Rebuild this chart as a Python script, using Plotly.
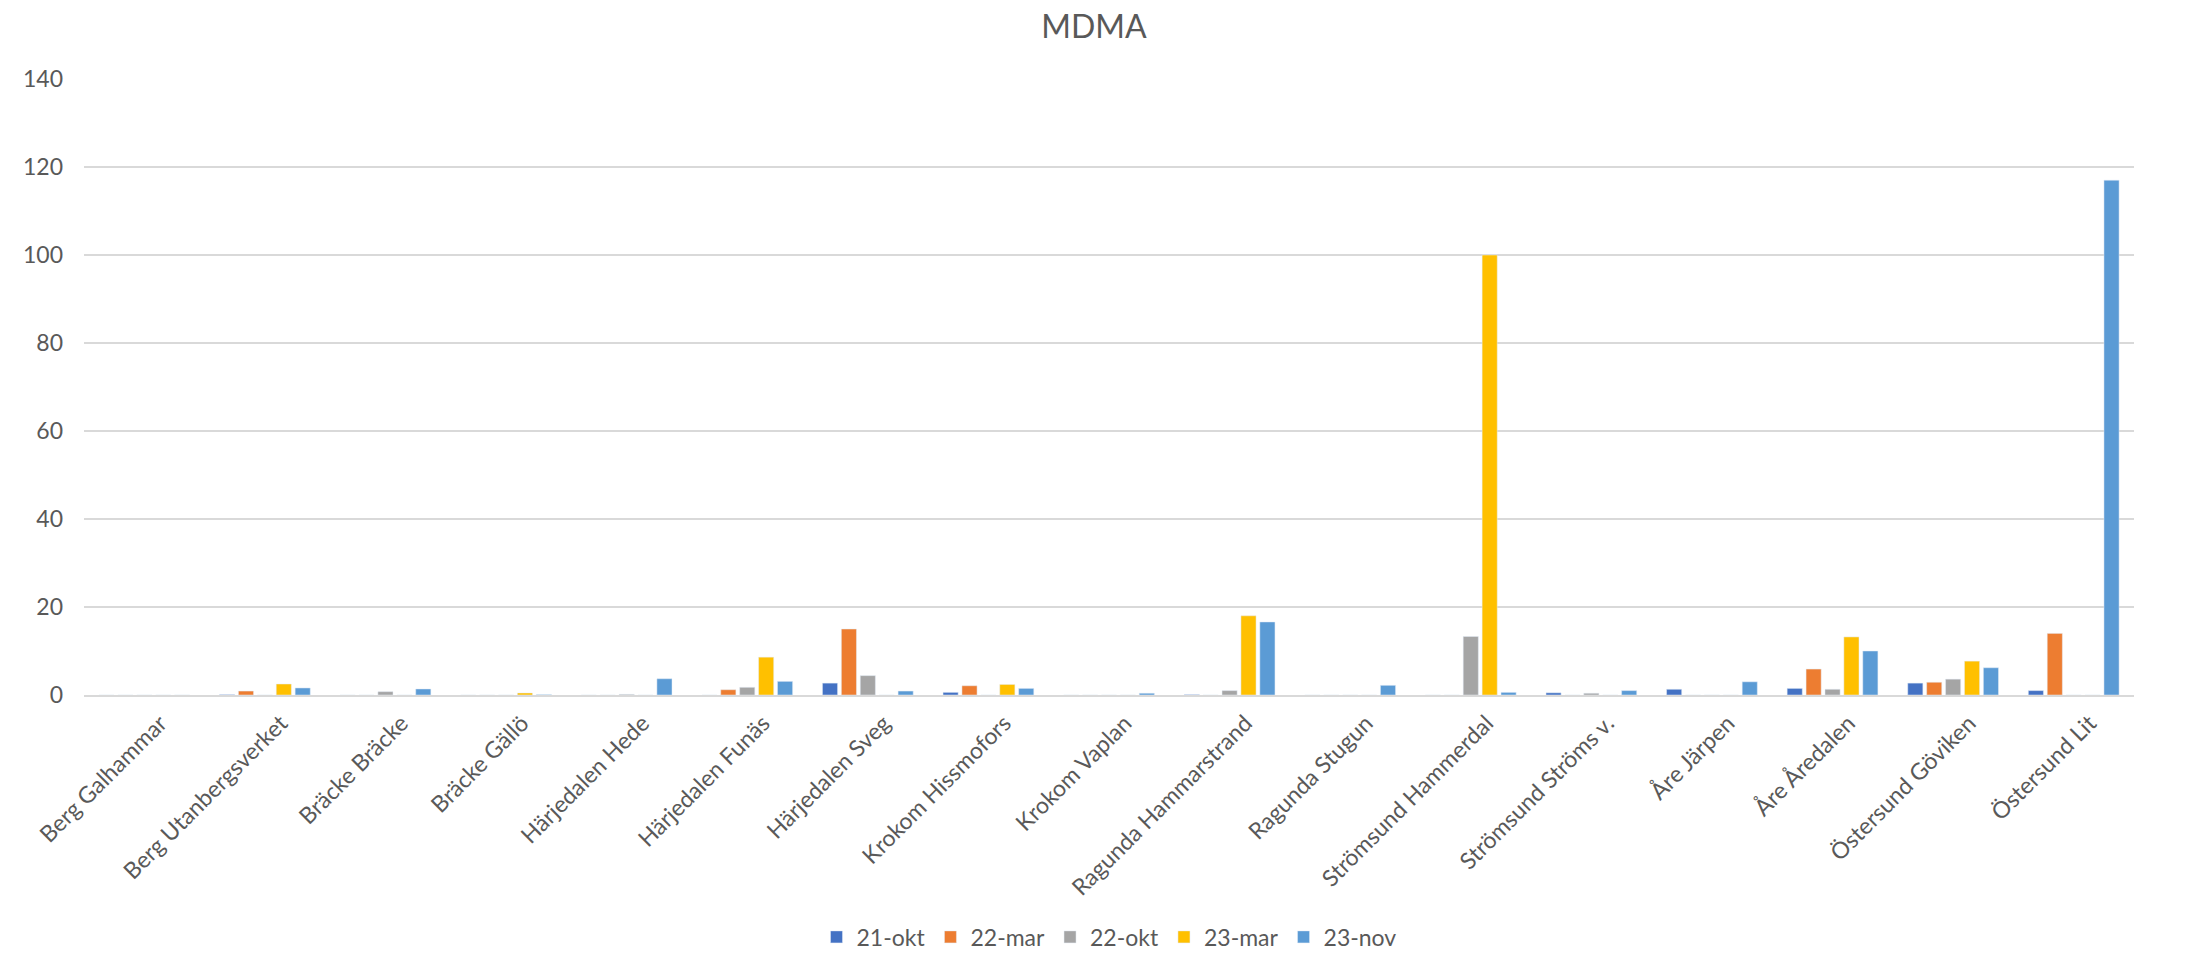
import plotly.graph_objects as go

# sampling sites (x categories)
sites = ["Berg Galhammar", "Berg Utanbergsverket", "Bräcke Bräcke", "Bräcke Gällö",
         "Härjedalen Hede", "Härjedalen Funäs", "Härjedalen Sveg", "Krokom Hissmofors",
         "Krokom Vaplan", "Ragunda Hammarstrand", "Ragunda Stugun", "Strömsund Hammerdal",
         "Strömsund Ströms v.", "Åre Järpen", "Åre Åredalen", "Östersund Göviken",
         "Östersund Lit"]

# MDMA per sampling round
okt21 = [0, 0.1, 0, 0, 0, 0, 2.7, 0.6, 0, 0.1, 0, 0, 0.5, 1.3, 1.5, 2.7, 1.0]
mar22 = [0, 0.9, 0, 0, 0, 1.2, 15.0, 2.1, 0, 0, 0, 0, 0, 0, 5.9, 2.9, 14.0]
okt22 = [0, 0, 0.76, 0, 0.15, 1.75, 4.4, 0, 0, 1.0, 0, 13.3, 0.4, 0, 1.3, 3.6, 0]
mar23 = [0, 2.5, 0, 0.46, 0, 8.6, 0, 2.4, 0, 18.0, 0, 100, 0, 0, 13.2, 7.7, 0]
nov23 = [0, 1.6, 1.37, 0.1, 3.7, 3.1, 0.9, 1.5, 0.4, 16.6, 2.2, 0.6, 1.0, 3.0, 10.0, 6.2, 117]

series = [("21-okt", okt21, "#4472C4"),
          ("22-mar", mar22, "#ED7D31"),
          ("22-okt", okt22, "#A5A5A5"),
          ("23-mar", mar23, "#FFC000"),
          ("23-nov", nov23, "#5B9BD5")]

font = "Lato, Calibri, 'Noto Sans', sans-serif"
grey = "#595959"

fig = go.Figure()
for name, vals, col in series:
    fig.add_trace(go.Bar(x=sites, y=vals, name=name, marker_color=col))

# page body has an 8px margin, so the figure starts 8px in from the window edge
fig.update_layout(
    width=2172, height=945,
    paper_bgcolor="white", plot_bgcolor="white",
    font=dict(family=font, size=23, color=grey),
    title=dict(text="MDMA", x=0.5, xanchor="center", y=0.98, yanchor="middle",
               font=dict(family=font, size=32, color=grey)),
    barmode="group", bargap=0.216, bargroupgap=0.2,
    margin=dict(l=76, r=46, t=71, b=258),
    showlegend=True,
    legend=dict(orientation="h", x=0.5, xanchor="center", yref="container",
                y=0.017, yanchor="middle", font=dict(size=23, color=grey),
                itemwidth=30, traceorder="normal"),
)
fig.update_yaxes(range=[0, 140], dtick=20, showgrid=True, gridcolor="#D9D9D9",
                 gridwidth=1.5, zeroline=False, showline=False, ticks="",
                 ticklabelstandoff=20, automargin=False,
                 tickfont=dict(size=23, color=grey))
fig.update_xaxes(tickangle=-45, showline=True, linecolor="#D9D9D9", linewidth=1.5,
                 ticks="", automargin=False, ticklabelshift=16, ticklabelstandoff=4,
                 tickfont=dict(size=23, color=grey))

fig.write_html("out.html")
